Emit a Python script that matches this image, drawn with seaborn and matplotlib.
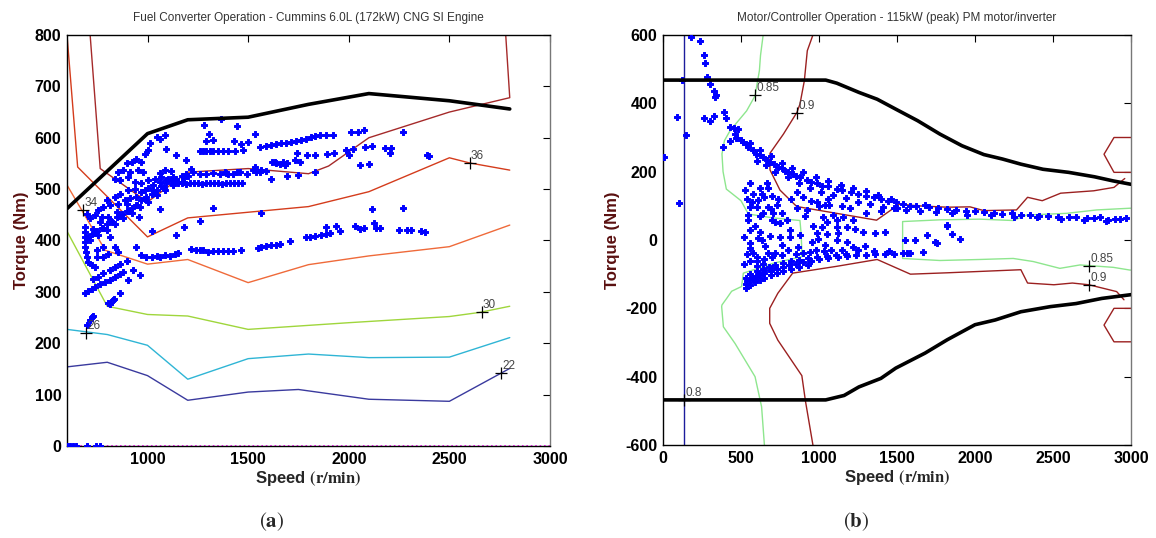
import numpy as np
import seaborn as sns
import matplotlib.pyplot as plt

sns.set_style("white")
plt.rcParams['font.family'] = ['Liberation Sans', 'DejaVu Sans']
plt.rcParams['mathtext.fontset'] = 'stix'
plt.rcParams['axes.unicode_minus'] = False

# ---------------- engine map (a) ----------------
eng_max_x = [600, 1000, 1200, 1500, 1800, 2100, 2500, 2800]
eng_max_y = [462, 608, 635, 640, 665, 686, 672, 656]

# efficiency contours (speed, torque)
c22_x = [600, 800, 1000, 1200, 1500, 1750, 2100, 2500, 2800]
c22_y = [154, 163, 137, 89, 105, 110, 91, 87, 151]
c26_x = [600, 800, 1000, 1200, 1500, 1800, 2100, 2500, 2800]
c26_y = [227, 217, 196, 130, 170, 179, 172, 173, 211]
c30_x = [600, 800, 1000, 1200, 1500, 2000, 2500, 2650, 2800]
c30_y = [418, 272, 256, 253, 227, 240, 252, 260, 272]
c34_x = [600, 790, 1000, 1200, 1500, 1800, 2100, 2500, 2800]
c34_y = [508, 381, 354, 363, 318, 353, 370, 388, 430]
c36_x = [600, 653, 1000, 1200, 1500, 1800, 2100, 2500, 2600, 2800]
c36_y = [800, 543, 407, 444, 455, 466, 495, 561, 551, 537]
c37_x = [715, 765, 1000, 1200, 1500, 1800, 1900, 2100, 2500, 2800, 2780]
c37_y = [800, 540, 475, 533, 540, 530, 545, 600, 650, 678, 800]

eng_labels = ['22', '26', '30', '34', '36']
eng_label_x = [2758, 696, 2660, 681, 2600]
eng_label_y = [142, 220, 260, 459, 551]

eng_pts = [
    (689, 397), (706, 406), (722, 412), (747, 419), (772, 424), (797, 432), (821, 438), (846, 445),
    (871, 451), (896, 458), (921, 464), (945, 470), (970, 478), (995, 485), (1020, 491), (1045, 499),
    (1069, 506), (1094, 511), (1119, 516), (1144, 520), (1169, 525), (1193, 530),
    (714, 400), (755, 410), (797, 420), (838, 432), (879, 443), (921, 454), (962, 465), (1003, 475),
    (1045, 488), (1086, 498), (1127, 508), (1169, 514),
    (700, 405), (735, 415), (780, 425), (825, 436), (860, 447), (910, 458), (950, 470), (990, 480),
    (1035, 492), (1080, 503), (1130, 512), (1180, 522), (1200, 525),
    (730, 423), (763, 436), (805, 446), (846, 456), (896, 472), (945, 485), (987, 498), (1028, 508),
    (1061, 514), (1103, 520),
    (1150, 512), (1170, 511), (1190, 510), (1210, 511), (1230, 512), (1250, 511), (1270, 510),
    (1290, 511), (1310, 511), (1330, 512), (1350, 511), (1370, 510), (1390, 511), (1410, 512),
    (1430, 511), (1450, 511), (1470, 512),
    (1227, 533), (1260, 530), (1293, 529), (1326, 532), (1359, 529), (1392, 532), (1425, 530),
    (1458, 533),
    (1260, 574), (1277, 574), (1293, 574), (1310, 574), (1326, 574), (1351, 574), (1376, 574),
    (1401, 575), (1434, 575), (1475, 576),
    (1558, 582), (1591, 583), (1616, 585), (1640, 587), (1665, 589), (1690, 590), (1715, 592),
    (1740, 594), (1764, 596), (1789, 598), (1814, 602), (1831, 603), (1855, 605), (1889, 606),
    (1922, 606), (2013, 611), (2046, 611), (2074, 615), (2272, 611),
    (1306, 608), (1326, 596), (1445, 622), (1536, 607), (1430, 593), (1467, 587), (1500, 591),
    (1367, 637), (1280, 624), (1293, 594),
    (1745, 571), (1793, 566), (1831, 566), (1892, 568), (1927, 571), (1984, 577), (2021, 579),
    (2079, 582), (2115, 583), (2181, 581), (2211, 581), (2203, 571), (2054, 546), (2100, 548),
    (2390, 566), (2398, 564), (2001, 566),
    (1621, 552), (1637, 550), (1657, 548), (1673, 553), (1693, 550), (1731, 556), (1756, 553),
    (1492, 530), (1533, 543), (1558, 533), (1616, 520), (1693, 525), (1750, 527), (1831, 533),
    (1384, 533), (1401, 530), (1445, 533), (1525, 538), (1541, 533), (1566, 537), (1591, 535),
    (1632, 553), (1682, 546),
    (1323, 463), (1566, 454), (2115, 461), (2272, 464),
    (1277, 382), (1301, 378), (1326, 380), (1351, 380), (1376, 380), (1401, 380), (1425, 380),
    (1467, 381), (1550, 386), (1566, 387), (1591, 389), (1616, 391), (1637, 392), (1657, 393),
    (1707, 399), (1786, 406), (1806, 407), (1831, 408), (1864, 410), (1885, 412), (1908, 415),
    (1888, 426), (1938, 428), (1958, 418), (2029, 428), (2054, 423), (2074, 424), (2123, 434),
    (2133, 425), (2153, 425), (2249, 421), (2289, 420), (2310, 420), (2360, 419), (2381, 417),
    (1218, 383), (1240, 382), (1260, 381),
    (1012, 589), (1061, 598), (1086, 606), (1045, 602), (1094, 579), (1003, 576), (987, 569),
    (1144, 566), (1190, 556), (1218, 540), (945, 559), (970, 553), (921, 553), (896, 550),
    (879, 537), (912, 533), (954, 537), (978, 533), (854, 533), (838, 520), (863, 517), (904, 524),
    (937, 514), (970, 511), (1003, 517), (1036, 520), (1069, 524), (1094, 517), (1127, 524),
    (1061, 532), (1086, 537), (1119, 535),
    (797, 478), (813, 469), (838, 485), (863, 491), (904, 498), (937, 501), (970, 495), (1003, 503),
    (1028, 498), (912, 482), (887, 478), (854, 472), (755, 459), (772, 446), (739, 449), (714, 443),
    (697, 452), (780, 465),
    (1061, 462), (957, 446), (1020, 418), (1144, 410), (1180, 426), (1260, 438),
    (689, 426), (689, 417), (689, 407), (689, 387), (694, 378), (697, 368), (706, 358),
    (722, 352), (739, 349), (747, 381), (780, 368), (813, 407), (838, 387), (854, 378), (780, 387),
    (805, 374), (747, 368),
    (970, 371), (995, 368), (1020, 367), (1045, 369), (1061, 368), (1086, 371), (1111, 369),
    (1136, 373), (1152, 376), (945, 387), (896, 361), (863, 355), (838, 349), (813, 342), (780, 336),
    (755, 329), (730, 326), (929, 342), (962, 332), (904, 323),
    (689, 298), (706, 302), (722, 305), (739, 309), (763, 315), (788, 319), (813, 324), (838, 329),
    (863, 334), (879, 339),
    (722, 251), (730, 254), (813, 277), (830, 285), (863, 298), (698, 235), (714, 245), (805, 278),
    (835, 287),
    (600, 0), (615, 0), (630, 0), (645, 0), (700, 0), (745, 0), (765, 0),
]

# ---------------- motor map (b) ----------------
mot_max_x = [0, 1043, 1114, 1256, 1373, 1492, 1633, 1775, 1916, 2057, 2176, 2294, 2436, 2600, 2766, 2885, 3000]
mot_max_y = [468, 468, 459, 432, 412, 383, 349, 310, 276, 250, 237, 222, 207, 198, 185, 173, 163]
mot_min_x = [0, 1043, 1161, 1256, 1397, 1492, 1680, 1822, 2000, 2130, 2294, 2483, 2648, 2813, 3000]
mot_min_y = [-468, -468, -455, -430, -405, -375, -331, -292, -248, -234, -210, -195, -186, -171, -160]

g85a_x = [642, 625, 618, 590, 536, 430, 394, 378, 385, 406, 500, 547, 700, 878, 885, 889, 889,
          707, 515, 504, 440, 408, 378, 376, 387, 462, 590, 632, 650]
g85a_y = [600, 540, 496, 422, 378, 320, 291, 252, 200, 149, 115, 76, 65, 57, 20, -20, -49,
          -68, -97, -136, -150, -171, -190, -195, -254, -303, -400, -488, -600]
g85b_x = [3000, 2993, 2780, 2587, 2331, 2245, 2032, 1775, 1536, 1536, 1775, 2032, 2245, 2373,
          2544, 2673, 2886, 2993, 3000]
g85b_y = [93, 93, 88, 78, 73, 57, 61, 59, 54, -54, -60, -57, -54, -63, -83, -73, -80, -88, -88]

r90a_x = [961, 925, 906, 878, 859, 772, 686, 686, 750, 857, 1177, 1369, 1515, 1633, 1822, 1968,
          2057, 2266, 2337, 2431, 2549, 2761, 2891, 2960]
r90a_y = [600, 554, 466, 398, 374, 310, 254, 205, 146, 98, 73, 58, 105, 100, 96, 97,
          86, 88, 125, 115, 137, 144, 154, 180]
r90b_x = [961, 913, 890, 736, 684, 684, 736, 831, 1114, 1373, 1586, 1822, 2294, 2337, 2506,
          2624, 2730, 2908, 2955]
r90b_y = [-600, -471, -397, -293, -244, -200, -156, -97, -77, -57, -100, -96, -87, -126, -131,
          -126, -131, -151, -175]
r90c_x = [3000, 2891, 2827, 2891, 3000]
r90c_y = [300, 300, 251, 198, 198]
r90d_x = [3000, 2891, 2827, 2891, 3000]
r90d_y = [-200, -200, -249, -298, -298]

mot_labels = ['0.85', '0.9', '0.85', '0.9', '0.8']
mot_label_x = [590, 861, 2731, 2731, 135]
mot_label_y = [424, 372, -77, -131, -468]

mot_pts = [
    (5, 242), (87, 359), (104, 107), (123, 469), (146, 307), (182, 595), (236, 583), (260, 541),
    (269, 518), (283, 478), (300, 457), (330, 437), (335, 418), (340, 424), (260, 357), (300, 347),
    (328, 364), (389, 376), (406, 357), (430, 330), (453, 327), (481, 325), (382, 271), (430, 291),
    (470, 300), (460, 310),
    (477, 300), (512, 286), (548, 271), (595, 252), (642, 242), (689, 227), (736, 213), (783, 203),
    (831, 193), (878, 183), (949, 169), (1020, 159), (1114, 149), (1208, 140), (1303, 130),
    (1397, 120), (1492, 110), (1586, 100), (1704, 96), (1822, 91), (1940, 86), (2058, 81),
    (2176, 76), (2294, 74), (2412, 71), (2530, 68), (2648, 66), (2766, 63), (2837, 57), (2931, 61),
    (560, 285), (620, 262), (690, 245), (760, 225), (830, 210), (900, 198), (980, 185), (1060, 172),
    (1140, 162), (1220, 152), (1300, 142), (1380, 132), (1460, 120),
    (600, 232), (660, 220), (720, 200), (800, 185), (870, 168), (940, 152), (1010, 140), (1090, 132),
    (1170, 122), (1250, 112), (1330, 104), (1410, 98), (1480, 94), (1560, 88), (1650, 84),
    (1750, 82), (1850, 78), (1950, 74), (2100, 72), (2250, 68), (2400, 66), (2550, 62), (2700, 60),
    (2850, 58),
    (500, 292), (530, 280), (575, 262), (620, 250), (665, 235), (710, 222), (760, 210), (800, 198),
    (850, 188), (920, 176), (990, 166), (1060, 158), (1150, 146), (1250, 136), (1350, 126),
    (1440, 115), (1540, 106), (1620, 100), (1680, 102), (1760, 95), (1880, 88), (2000, 84),
    (2120, 80), (2240, 78), (2350, 72), (2470, 70), (2600, 66), (2720, 64), (2800, 66), (2900, 62),
    (2970, 64),
    (530, -128), (560, -118), (590, -110), (620, -103), (650, -97), (690, -90), (730, -84),
    (770, -79), (810, -74), (850, -70), (900, -65), (950, -61), (1000, -57), (1060, -53),
    (1120, -50), (1180, -47), (1240, -45), (1300, -43), (1360, -42), (1420, -41), (1480, -40),
    (1540, -39),
    (530, -110), (560, -100), (600, -92), (640, -85), (680, -78), (720, -72), (770, -67), (820, -62),
    (870, -58), (930, -54), (990, -50), (1050, -47), (1110, -44), (1170, -42),
    (535, -140), (560, -132), (590, -124), (620, -116), (650, -110), (690, -102), (730, -96),
    (770, -90), (820, -84), (870, -78), (930, -72),
    (540, -120), (575, -110), (610, -100), (650, -88), (700, -82),
    (558, 168), (526, 146), (665, 168), (622, 151), (675, 151), (579, 135), (632, 135), (558, 98),
    (600, 96), (675, 98), (728, 102), (547, 73), (622, 70), (547, 60), (707, 78), (792, 60),
    (718, 54), (750, 49), (814, 29), (622, 24), (686, 12), (611, 5), (558, -10), (632, 0),
    (654, -18), (558, -24), (579, -39), (600, -49), (675, -39), (718, -37), (761, -15), (750, 10),
    (814, 10), (878, 15), (867, -20),
    (540, 120), (570, 110), (610, 118), (650, 125), (700, 130), (740, 120), (690, 90), (640, 80),
    (590, 40), (560, 30), (520, 10), (540, -40), (600, -60), (650, -55), (700, -50), (760, -45),
    (800, -30), (850, -40), (900, -38), (940, -35), (980, -30), (1030, -32), (1080, -28),
    (1150, -30), (1250, -30), (1350, -32), (1450, -32), (520, -70), (560, -60), (600, -75),
    (640, -70), (700, 60), (760, 80), (820, 120), (860, 140), (900, 125), (950, 115), (1000, 100),
    (1060, 120), (1150, 100), (1200, 95), (1300, 80), (1400, 85), (1500, 95),
    (920, 88), (984, 112), (1038, 102), (1066, 102), (856, 93), (910, 70), (1027, 68), (1091, 73),
    (1156, 68), (1220, 58), (1049, 54), (1113, 58), (963, 41), (1017, 39), (1113, 39), (1177, 39),
    (1230, 31), (984, 20), (1049, 18), (1124, 20), (1284, 24), (952, -5), (995, 2), (1038, -15),
    (1113, 0), (1177, -5), (1220, -20), (1294, -18), (1358, 20), (1422, 24),
    (1551, 0), (1615, 0), (1690, 15), (1754, -8), (1822, 41), (1850, 18), (1668, -34), (1562, -39),
    (1818, 44), (1904, 2), (1743, -5), (1583, -37),
]

eng_sx = [p[0] for p in eng_pts]
eng_sy = [p[1] for p in eng_pts]
mot_sx = [p[0] for p in mot_pts]
mot_sy = [p[1] for p in mot_pts]

fig = plt.figure(figsize=(11.56, 5.38), dpi=100)
ax1 = fig.add_axes([67 / 1156, 1 - 446 / 538, 483 / 1156, 411 / 538])
ax2 = fig.add_axes([663 / 1156, 1 - 445 / 538, 468 / 1156, 410 / 538])


def line(ax, xs, ys, color, lw=1.0, **kw):
    sns.lineplot(x=xs, y=ys, sort=False, estimator=None, color=color, linewidth=lw, ax=ax, **kw)


def mark(ax, xs, ys, labels):
    for x, y, t in zip(xs, ys, labels):
        ax.plot(x, y, marker='+', color='black', ms=8, mew=0.9, zorder=6)
        ax.annotate(t, (x, y), xytext=(1, 3), textcoords='offset points',
                    fontsize=8.5, color='#444444', zorder=6)


# ----- panel a -----
line(ax1, c22_x, c22_y, '#3a3a9e')
line(ax1, c26_x, c26_y, '#2fb5d5')
line(ax1, c30_x, c30_y, '#9fd63c')
line(ax1, c34_x, c34_y, '#ef6a3a')
line(ax1, c36_x, c36_y, '#d43c1c')
line(ax1, c37_x, c37_y, '#a52a2a')
ax1.plot([600, 3000], [0, 0], color='#ff00ff', ls=':', lw=1.2, zorder=2)
sns.scatterplot(x=eng_sx, y=eng_sy, ax=ax1, color='#0000ff', marker='P', s=20,
                edgecolor='#0000ff', linewidth=0.7, zorder=3)
line(ax1, eng_max_x, eng_max_y, 'black', lw=2.6, zorder=4)
mark(ax1, eng_label_x, eng_label_y, eng_labels)

ax1.set_xlim(600, 3000)
ax1.set_ylim(0, 800)
ax1.set_xticks([1000, 1500, 2000, 2500, 3000])
ax1.set_yticks(range(0, 801, 100))
ax1.set_title('Fuel Converter Operation - Cummins 6.0L (172kW) CNG SI Engine',
              fontsize=8.5, color='#333333', pad=10)

# ----- panel b -----
ax2.axvline(135, color='#1c1c9c', lw=1.0, zorder=2)
line(ax2, g85a_x, g85a_y, '#8ee68e')
line(ax2, g85b_x, g85b_y, '#8ee68e')
line(ax2, r90a_x, r90a_y, '#9b2020')
line(ax2, r90b_x, r90b_y, '#9b2020')
line(ax2, r90c_x, r90c_y, '#9b2020')
line(ax2, r90d_x, r90d_y, '#9b2020')
sns.scatterplot(x=mot_sx, y=mot_sy, ax=ax2, color='#0000ff', marker='P', s=20,
                edgecolor='#0000ff', linewidth=0.7, zorder=3)
line(ax2, mot_max_x, mot_max_y, 'black', lw=2.6, zorder=4)
line(ax2, mot_min_x, mot_min_y, 'black', lw=2.6, zorder=4)
mark(ax2, mot_label_x, mot_label_y, mot_labels)

ax2.set_xlim(0, 3000)
ax2.set_ylim(-600, 600)
ax2.set_xticks(range(0, 3001, 500))
ax2.set_yticks(range(-600, 601, 200))
ax2.set_title('Motor/Controller Operation - 115kW (peak) PM motor/inverter',
              fontsize=8.5, color='#333333', pad=10)

for ax in (ax1, ax2):
    ax.tick_params(direction='in', top=True, right=True, length=5, width=0.8,
                   labelsize=11.5, pad=4, colors='black')
    for lbl in ax.get_xticklabels() + ax.get_yticklabels():
        lbl.set_fontweight('bold')
    for s in ax.spines.values():
        s.set_color('black')
        s.set_linewidth(1.0)
    ax.spines['right'].set_color('#777777')
    ax.set_xlabel('Speed $\\mathbf{(r/min)}$', fontsize=12, fontweight='bold', labelpad=2)
    ax.set_ylabel('Torque (Nm)', fontsize=12, fontweight='bold', color='#5a1010', labelpad=4)

fig.text(272 / 1156, 1 - 522 / 538, '($\\mathbf{a}$)', family='STIXGeneral', fontsize=15,
         ha='center', va='center')
fig.text(856 / 1156, 1 - 522 / 538, '($\\mathbf{b}$)', family='STIXGeneral', fontsize=15,
         ha='center', va='center')

fig.savefig('out.png', dpi=100)
